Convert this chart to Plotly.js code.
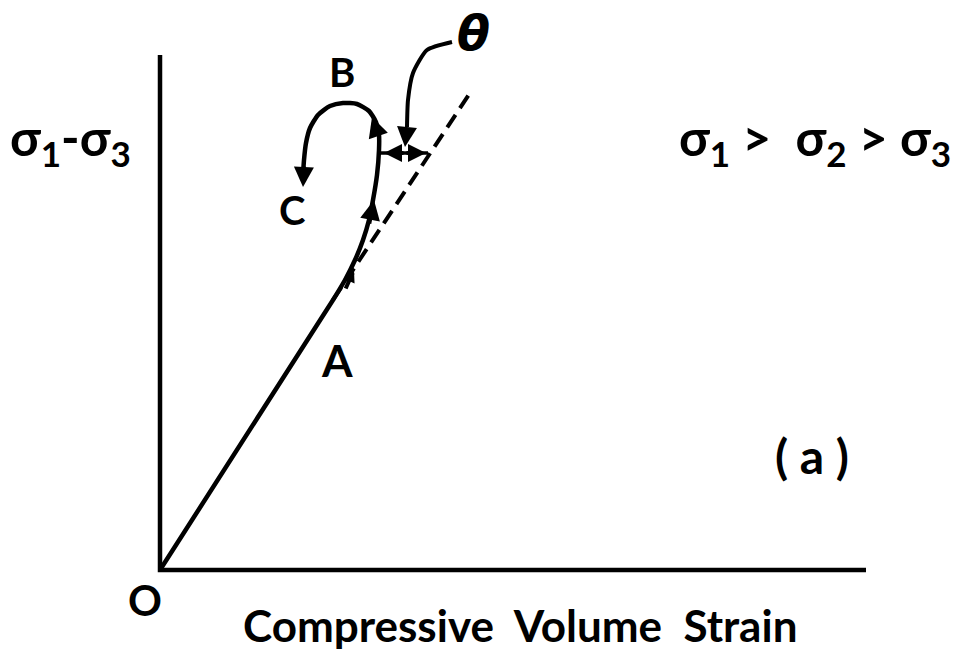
<!DOCTYPE html>
<html>
<head>
<meta charset="utf-8">
<script src="https://cdn.plot.ly/plotly-3.0.1.min.js"></script>
<style>
  html, body { margin: 0; padding: 0; background: #fff; }
  #chart { width: 958px; height: 651px; }
</style>
</head>
<body>
<div id="chart"></div>
<script>
// Schematic stress path: deviator stress vs compressive volume strain (arbitrary units)
const axisX = [0, 0, 7.06];
const axisY = [5.15, 0, 0];

// O -> A -> B -> C
const pathX = [0, 1.73, 1.85, 1.95, 2.03, 2.09, 2.13, 2.17, 2.19, 2.19, 2.16, 2.09, 1.97, 1.83, 1.70, 1.58, 1.50, 1.46, 1.44, 1.43];
const pathY = [0, 2.70, 2.90, 3.10, 3.30, 3.50, 3.70, 3.95, 4.20, 4.35, 4.48, 4.59, 4.66, 4.67, 4.64, 4.55, 4.42, 4.27, 4.10, 3.95];

// initial linear tangent, extended past A
const tangentX = [1.73, 3.10];
const tangentY = [2.70, 4.77];

// theta: gap between curve and tangent, and the pointer
const gapX = [2.20, 2.68];
const gapY = [4.17, 4.17];
const pointerX = [2.92, 2.67, 2.53, 2.48, 2.47];
const pointerY = [5.28, 5.20, 4.97, 4.70, 4.43];

// arrowheads: [tailX, tailY, tipX, tipY, size]
const arrowHeads = [
    [1.85, 2.80, 1.94, 3.00, 0.6],
    [2.09, 3.45, 2.14, 3.70, 1.0],
    [2.18, 4.35, 2.12, 4.53, 1.0],
    [1.44, 4.05, 1.43, 3.83, 1.0],
    [2.47, 4.43, 2.45, 4.23, 1.0],
    [2.45, 4.17, 2.24, 4.17, 0.9],
    [2.45, 4.17, 2.66, 4.17, 0.9]
];

// labels: [text, x, y, size, italic]
const labels = [
    ['O', -0.15, -0.30, 42, false],
    ['A', 1.77, 2.10, 44, false],
    ['B', 1.82, 4.98, 40, false],
    ['C', 1.32, 3.60, 40, false],
    ['θ', 3.13, 5.37, 48, true],
    ['(&nbsp;a&nbsp;)', 6.52, 1.15, 48, false],
    ['σ<sub>1</sub>-σ<sub>3</sub>', -0.90, 4.30, 50, false],
    ['σ<sub>1</sub>&nbsp;>&nbsp;&nbsp;σ<sub>2</sub>&nbsp;>&nbsp;σ<sub>3</sub>', 6.55, 4.30, 50, false],
    ['Compressive&nbsp;&nbsp;Volume&nbsp;&nbsp;Strain', 3.60, -0.55, 44, false]
];

const ink = '#000';
const fontFamily = 'Lato, "DejaVu Sans", sans-serif';
const thetaFamily = '"DejaVu Sans", sans-serif';

function lineTrace(x, y, width, dash, shape) {
    return {
        x, y,
        type: 'scatter',
        mode: 'lines',
        line: { color: ink, width, dash: dash || 'solid', shape: shape || 'spline', smoothing: 0.6 },
        hoverinfo: 'skip',
        showlegend: false
    };
}

const traces = [
    lineTrace(axisX, axisY, 4.5, 'solid', 'linear'),
    lineTrace(pathX, pathY, 4.5),
    lineTrace(tangentX, tangentY, 4, '15px,8px', 'linear'),
    lineTrace(gapX, gapY, 3.5, 'solid', 'linear'),
    lineTrace(pointerX, pointerY, 4)
];

const annotations = arrowHeads.map(([ax, ay, x, y, size]) => ({
    x, y, ax, ay,
    xref: 'x', yref: 'y', axref: 'x', ayref: 'y',
    text: '',
    showarrow: true,
    arrowhead: 2,
    arrowsize: size,
    arrowwidth: 4,
    arrowcolor: ink,
    standoff: 0,
    startstandoff: 0
}));

labels.forEach(([text, x, y, size, italic]) => {
    annotations.push({
        text, x, y,
        xref: 'x', yref: 'y',
        showarrow: false,
        xanchor: 'center',
        yanchor: 'middle',
        font: {
            family: italic ? thetaFamily : fontFamily,
            size, color: ink, weight: 'bold',
            style: italic ? 'italic' : 'normal'
        }
    });
});

const layout = {
    width: 958,
    height: 651,
    margin: { l: 0, r: 0, t: 0, b: 0 },
    paper_bgcolor: '#fff',
    plot_bgcolor: '#fff',
    showlegend: false,
    xaxis: { range: [-1.6, 7.98], visible: false, fixedrange: true },
    yaxis: { range: [-0.81, 5.70], visible: false, fixedrange: true },
    annotations
};

Plotly.newPlot('chart', traces, layout, { displayModeBar: false, staticPlot: true });
</script>
</body>
</html>
